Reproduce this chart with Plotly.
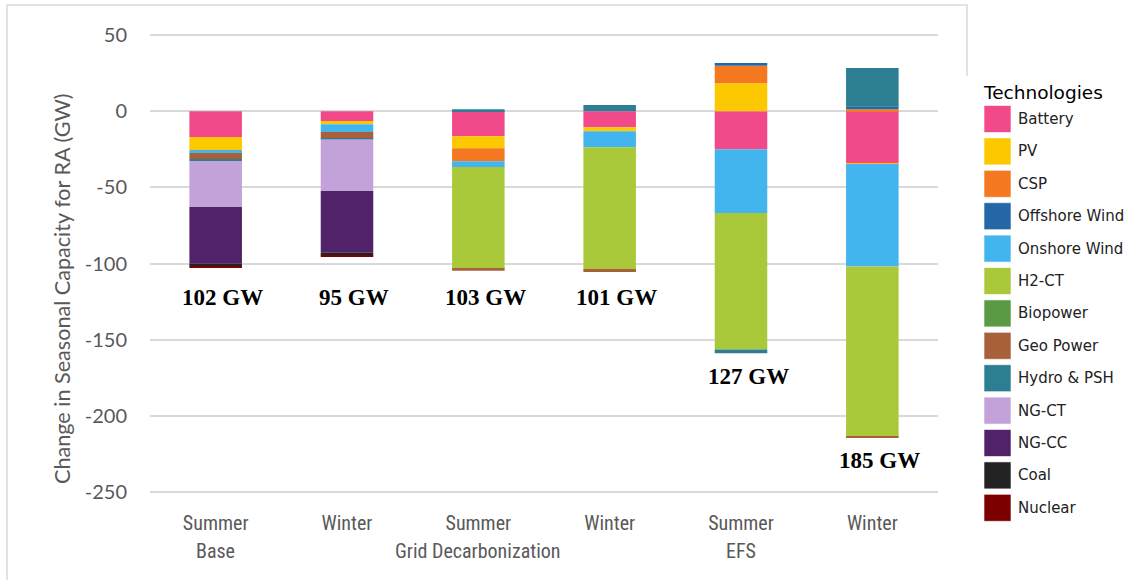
import plotly.graph_objects as go

# ---------------- data ----------------
categories = ["Base Summer", "Base Winter", "GD Summer", "GD Winter", "EFS Summer", "EFS Winter"]
season_labels = ["Summer", "Winter", "Summer", "Winter", "Summer", "Winter"]
group_labels = ["Base", "Grid Decarbonization", "EFS"]
group_positions = [0, 2, 4]
total_labels = ["102 GW", "95 GW", "103 GW", "101 GW", "127 GW", "185 GW"]
y_title = "Change in Seasonal Capacity for RA (GW)"

technologies = ["Battery", "PV", "CSP", "Offshore Wind", "Onshore Wind", "H2-CT",
                "Biopower", "Geo Power", "Hydro & PSH", "NG-CT", "NG-CC", "Coal", "Nuclear"]

battery = [-17.0, -6.5, -16.4, -10.5, -25.0, -34.2]
pv = [-8.5, -2.0, -7.9, -2.6, 18.4, -0.5]
csp = [0, 0, -8.5, 0, 11.4, 1.3]
offshore_wind = [0, 0, 0, 0, 1.8, 2.0]
onshore_wind = [-2.0, -5.2, -3.9, -10.5, -41.8, -67.2]
h2_ct = [0, 0, -66.8, -80.6, -89.7, -111.7]
biopower = [0, 0, 0, 0, 0, 0]
geo_power = [-4.1, -3.9, -1.3, -1.3, 0, -0.5]
hydro_psh = [-1.1, -0.9, 1.3, 4.0, -2.4, 25.0]
ng_ct = [-30.2, -33.9, 0, 0, 0, 0]
ng_cc = [-37.3, -40.6, 0, 0, 0, 0]
coal = [-1.7, -1.7, 0, 0, 0, 0]
nuclear = [-0.7, -0.6, 0, 0, 0, 0]

series = [battery, pv, csp, offshore_wind, onshore_wind, h2_ct, biopower,
          geo_power, hydro_psh, ng_ct, ng_cc, coal, nuclear]

colors = ["#F2498B", "#FCC800", "#F37820", "#2467A6", "#43B5EE", "#A9C93A",
          "#5A9A44", "#A8603A", "#2C7F93", "#C3A1D9", "#51216A", "#222222", "#7C0000"]

y_ticks = [50, 0, -50, -100, -150, -200, -250]

# ---------------- layout constants ----------------
W, H = 1134, 580
ML, MR, MT, MB = 150, 196, 32, 85
Y_RANGE = [-252, 52]
PW = W - ML - MR
PH = H - MT - MB


def px2x(px):
    return (px - ML) / PW


def py2y(py):
    return (H - MB - py) / PH


GREY = "#595959"
NARROW = "Liberation Sans Narrow, Arial Narrow, Roboto Condensed, sans-serif"
fig = go.Figure()

for name, vals, col in zip(technologies, series, colors):
    fig.add_trace(go.Bar(
        x=list(range(len(categories))), y=vals, name=name,
        marker=dict(color=col, line=dict(width=0)),
        showlegend=False, hovertemplate=name + ": %{y}<extra></extra>",
    ))

# total labels under each bar
for i, lab in enumerate(total_labels):
    neg = sum(s[i] for s in series if s[i] < 0)
    ypos = min(neg - 15, -122.5)
    fig.add_annotation(x=i, y=ypos, text="<b>" + lab + "</b>", showarrow=False,
                       xshift=7, font=dict(family="Liberation Serif", size=23, color="black"))

# group labels (second row of x axis)
for pos, lab in zip(group_positions, group_labels):
    fig.add_annotation(x=pos, y=py2y(551), xref="x", yref="paper", text=lab,
                       showarrow=False, yanchor="middle",
                       font=dict(family=NARROW, size=20, color=GREY))

# y axis title
fig.add_annotation(x=px2x(62), y=py2y(289), xref="paper", yref="paper", text=y_title,
                   textangle=-90, showarrow=False, xanchor="center", yanchor="middle",
                   font=dict(family="Lato", size=21.6, color=GREY))

# manual legend with large swatches
fig.add_annotation(x=px2x(981), y=py2y(92), xref="paper", yref="paper", text="Technologies",
                   showarrow=False, xanchor="left", yanchor="middle",
                   font=dict(family="DejaVu Sans", size=18.5, color="black"))
for i, (name, col) in enumerate(zip(technologies, colors)):
    cy = 119 + 32.4 * i
    fig.add_shape(type="rect", xref="paper", yref="paper",
                  x0=px2x(984), x1=px2x(1011), y0=py2y(cy - 13.5), y1=py2y(cy + 13.5),
                  fillcolor=col, line=dict(width=1, color="rgba(255,255,255,0.6)"))
    fig.add_annotation(x=px2x(1016), y=py2y(cy), xref="paper", yref="paper", text=name,
                       showarrow=False, xanchor="left", yanchor="middle",
                       font=dict(family="DejaVu Sans", size=15, color="#222222"))

# outer border of chart area
fig.add_shape(type="path", xref="paper", yref="paper",
              path="M {},{} L {},{} L {},{} L {},{}".format(
                  px2x(7), py2y(590), px2x(7), py2y(5), px2x(967), py2y(5), px2x(967), py2y(76)),
              line=dict(color="#D9D9D9", width=1.5))

fig.update_layout(
    width=W, height=H,
    margin=dict(l=ML, r=MR, t=MT, b=MB),
    barmode="relative", bargap=0.6,
    plot_bgcolor="white", paper_bgcolor="white",
    showlegend=False,
    xaxis=dict(
        range=[-0.5, 5.5], tickmode="array", tickvals=list(range(len(categories))),
        ticktext=season_labels, showgrid=False, zeroline=False, showline=False, ticks="",
        ticklabelstandoff=14,
        tickfont=dict(family=NARROW, size=20, color=GREY),
    ),
    yaxis=dict(
        range=Y_RANGE, tickmode="array", tickvals=y_ticks, ticktext=[str(v) for v in y_ticks],
        showgrid=True, gridcolor="#D9D9D9", gridwidth=1.5, zeroline=False, showline=False,
        ticks="", ticklabelstandoff=22,
        tickfont=dict(family="Lato", size=20, color=GREY),
    ),
)

fig.write_html("out.html", config={"displayModeBar": False},
               post_script="document.body.style.margin='0';document.body.style.overflow='hidden';")
